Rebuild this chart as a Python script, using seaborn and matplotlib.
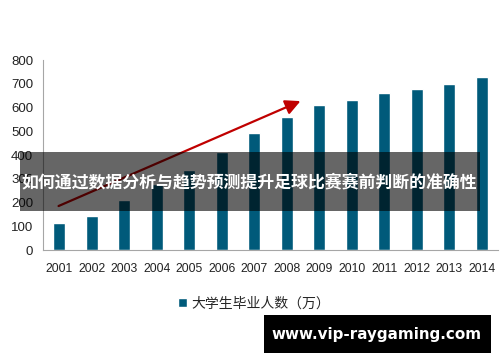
import pandas as pd
import matplotlib.pyplot as plt
import seaborn as sns
from matplotlib.patches import Rectangle

# data
years = ['2001', '2002', '2003', '2004', '2005', '2006', '2007',
         '2008', '2009', '2010', '2011', '2012', '2013', '2014']
graduates = [114, 145, 212, 280, 338, 413, 495, 559, 611, 631, 660, 680, 699, 727]
series_name = '大学生毕业人数（万）'
banner_text = '如何通过数据分析与趋势预测提升足球比赛赛前判断的准确性'
watermark = 'www.vip-raygaming.com'

df = pd.DataFrame({'year': years, 'value': graduates})

sns.set_style('white')
plt.rcParams['font.family'] = ['Liberation Sans', 'Noto Sans CJK SC', 'DejaVu Sans']

fig = plt.figure(figsize=(5, 3.62), dpi=100)
ax = fig.add_axes([0.086, 0.309, 0.91, 0.525])

sns.barplot(data=df, x='year', y='value', color='#005A7A', width=0.37,
            saturation=1, label=series_name, ax=ax)
handles = ax.get_legend_handles_labels()[0]
if ax.get_legend() is not None:
    ax.get_legend().remove()

ax.set_ylim(0, 800)
ax.set_xlim(-0.5, 13.5)
ax.set_yticks(range(0, 801, 100))
ax.set_xlabel('')
ax.set_ylabel('')
sns.despine(ax=ax, top=True, right=True)
for s in ['left', 'bottom']:
    ax.spines[s].set_color('#A6A6A6')
    ax.spines[s].set_linewidth(0.8)

ax.tick_params(axis='y', length=5, color='#A6A6A6', labelsize=9.5,
               labelcolor='#222222', pad=2)
ax.tick_params(axis='x', which='major', length=0, labelsize=8.7,
               labelcolor='#222222', pad=9)
ax.set_xticks([i - 0.5 for i in range(15)], minor=True)
ax.tick_params(axis='x', which='minor', length=5, color='#A6A6A6')

# trend arrow
ax.annotate('', xy=(7.5, 632), xytext=(-0.1, 181),
            arrowprops=dict(arrowstyle='-|>,head_length=0.9,head_width=0.45',
                            color='#C00000', lw=1.6))

fig.legend(handles=handles, labels=[series_name], loc='center',
           bbox_to_anchor=(0.508, 0.162), frameon=False,
           handlelength=0.7, handleheight=0.7, handletextpad=0.3,
           prop={'family': ['Noto Sans CJK SC'], 'size': 10})

# overlay banner
fig.patches.append(Rectangle((0.04, 1 - 211 / 362), 0.92, 59 / 362,
                             transform=fig.transFigure, facecolor='black',
                             alpha=0.6, edgecolor='none', zorder=5))
fig.text(0.042, 1 - 182 / 362, banner_text, color='white', fontsize=12.2,
         fontweight='bold', va='center', ha='left', zorder=6,
         family=['Noto Sans CJK SC', 'DejaVu Sans'])

# watermark box
fig.patches.append(Rectangle((264 / 500, 1 - 353 / 362), 227 / 500, 38 / 362,
                             transform=fig.transFigure, facecolor='black',
                             edgecolor='none', zorder=5))
fig.text(377 / 500, 1 - 334 / 362, watermark, color='white', fontsize=10.9,
         fontweight='bold', va='center', ha='center', zorder=6,
         family=['DejaVu Sans'])

fig.savefig('out.png', dpi=100)
